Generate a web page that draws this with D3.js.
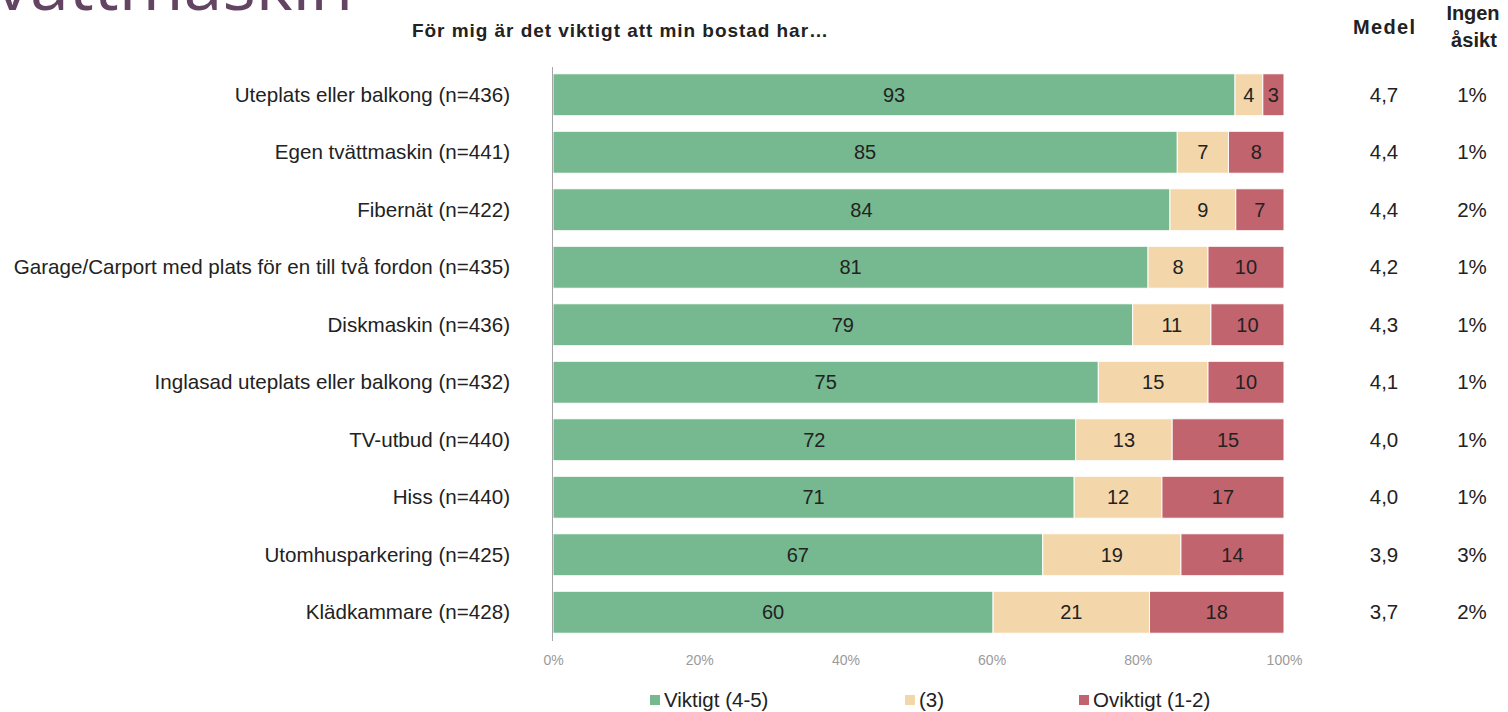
<!DOCTYPE html>
<html><head><meta charset="utf-8">
<script src="https://cdn.jsdelivr.net/npm/d3@7"></script>
<style>body{margin:0;background:#fff;} svg{display:block;font-family:"Liberation Sans",Arial,sans-serif;}</style>
</head><body>
<svg id="c" width="1508" height="712"></svg>
<script>
const categories = ["Uteplats eller balkong (n=436)","Egen tvättmaskin (n=441)","Fibernät (n=422)","Garage/Carport med plats för en till två fordon (n=435)","Diskmaskin (n=436)","Inglasad uteplats eller balkong (n=432)","TV-utbud (n=440)","Hiss (n=440)","Utomhusparkering (n=425)","Klädkammare (n=428)"];
const viktigt  = [93.3, 85.4, 84.4, 81.4, 79.3, 74.6, 71.5, 71.3, 67.0, 60.2];
const neutral  = [3.8, 7.0, 9.0, 8.2, 10.7, 15.0, 13.2, 12.0, 18.9, 21.4];
const oviktigt = [2.9, 7.6, 6.6, 10.4, 10.0, 10.4, 15.3, 16.7, 14.1, 18.4];
const labelsV = [93,85,84,81,79,75,72,71,67,60];
const labelsN = [4,7,9,8,11,15,13,12,19,21];
const labelsO = [3,8,7,10,10,10,15,17,14,18];
const medel = ["4,7","4,4","4,4","4,2","4,3","4,1","4,0","4,0","3,9","3,7"];
const ingen = ["1%","1%","2%","1%","1%","1%","1%","1%","3%","2%"];
const ticks = [0,20,40,60,80,100];
const seriesNames = ["Viktigt (4-5)","(3)","Oviktigt (1-2)"];
const colors = ["#76B990","#F3D6AA","#C2646E"];

const svg = d3.select("#c");
const x = d3.scaleLinear().domain([0,100]).range([553,1284]);
const y = d3.scaleBand().domain(categories).range([66,641]).paddingInner(0.27).paddingOuter(0.135);

// title fragment
svg.append("text").attr("x",-5).attr("y",10).attr("font-family","'Open Sans',sans-serif")
  .attr("font-size",70).attr("fill","#634563").text("vättmaskin");

function boldText(tx, ty, txt, w, fs){
  svg.append("text").attr("x",tx).attr("y",ty).attr("text-anchor","middle").attr("font-weight","bold")
    .attr("font-size",fs).attr("fill","#222").attr("textLength",w).attr("lengthAdjust","spacing").text(txt);
}
boldText(620, 37, "För mig är det viktigt att min bostad har…", 416, 19);
boldText(1384, 34, "Medel", 62, 20);
boldText(1473, 20, "Ingen", 53, 20);
boldText(1474, 47, "åsikt", 46, 20);

const rows = categories.map((c,i)=>({cat:c, vals:[viktigt[i],neutral[i],oviktigt[i]], labs:[labelsV[i],labelsN[i],labelsO[i]]}));
const g = svg.append("g");
rows.forEach((r,i)=>{
  let acc=0;
  const cy = y(r.cat)+y.bandwidth()/2+7;
  r.vals.forEach((v,j)=>{
    const x0=x(acc), x1=x(acc+v);
    g.append("rect").attr("x",x0).attr("y",y(r.cat)).attr("width",x1-x0).attr("height",y.bandwidth())
      .attr("fill",colors[j]).attr("stroke","#fff").attr("stroke-width",1);
    g.append("text").attr("x",(x0+x1)/2).attr("y",cy).attr("text-anchor","middle")
      .attr("font-size",20).attr("fill","#222").text(r.labs[j]);
    acc+=v;
  });
  g.append("text").attr("x",510).attr("y",cy).attr("text-anchor","end")
    .attr("font-size",20.6).attr("fill","#222").text(r.cat);
  g.append("text").attr("x",1384).attr("y",cy).attr("text-anchor","middle")
    .attr("font-size",20.5).attr("fill","#222").text(medel[i]);
  g.append("text").attr("x",1472).attr("y",cy).attr("text-anchor","middle")
    .attr("font-size",20.5).attr("fill","#222").text(ingen[i]);
});

// axis line
svg.append("line").attr("x1",552.5).attr("x2",552.5).attr("y1",67).attr("y2",641).attr("stroke","#a6a6a6").attr("stroke-width",1);

const ax = svg.append("g").attr("transform","translate(0,652)")
  .call(d3.axisBottom(x).tickValues(ticks).tickFormat(d=>d+"%").tickSize(0));
ax.select(".domain").remove();
ax.selectAll("text").attr("font-size",14).attr("fill","#9a9a9a").attr("font-family","'Liberation Sans',Arial,sans-serif");

// legend
const legX = [650, 905, 1079];
seriesNames.forEach((n,i)=>{
  svg.append("rect").attr("x",legX[i]).attr("y",695).attr("width",10).attr("height",10).attr("fill",colors[i]);
  svg.append("text").attr("x",legX[i]+14).attr("y",707).attr("font-size",20.5).attr("fill","#222").text(n);
});
</script>
</body></html>
